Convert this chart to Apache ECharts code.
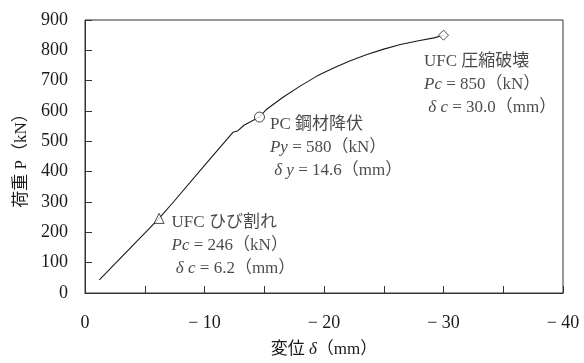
<!DOCTYPE html>
<html>
<head>
<meta charset="utf-8">
<script src="https://cdn.jsdelivr.net/npm/echarts@6/dist/echarts.min.js"></script>
<style>
  html, body { margin: 0; padding: 0; background: #fff; }
  #chart { width: 584px; height: 363px; }
</style>
</head>
<body>
<div id="chart"></div>
<script>
// Load–displacement curve (displacement in mm, load in kN)
const displacement = [-1.2, -6.2, -7.4, -10.2, -12.4, -12.8, -13.3, -14.6, -15.2, -16.6, -18.0,
                      -19.4, -20.8, -22.2, -23.6, -25.0, -26.4, -27.8, -29.2, -30.0];
const load = [43, 246, 300, 430, 530, 535, 553, 580, 606, 646, 682,
              715, 742, 766, 786, 804, 819, 831, 841, 850];

// Key events on the curve
const eventNames = ['UFC ひび割れ', 'PC 鋼材降伏', 'UFC 圧縮破壊'];
const eventLoadSym = ['Pc', 'Py', 'Pc'];
const eventDispSym = ['δ c', 'δ y', 'δ c'];
const eventDisp = [-6.2, -14.6, -30.0];
const eventLoad = [246, 580, 850];
const eventSymbols = ['triangle', 'circle', 'diamond'];

// Axis ticks
const xTicks = [0, -10, -20, -30, -40];
const yTicks = [0, 100, 200, 300, 400, 500, 600, 700, 800, 900];

const FONT = '"Liberation Serif", "Noto Sans CJK JP", serif';
const INK = '#1a1a1a';

// Where each callout sits relative to its marker
const calloutOffset = [[2, 27], [0, 30], [-30, 49]];

const curve = displacement.map((d, i) => [d, load[i]]);

const events = eventDisp.map((d, i) => ({
  value: [d, eventLoad[i]],
  symbol: eventSymbols[i],
  label: {
    show: true,
    position: 'right',
    distance: 5,
    offset: calloutOffset[i],
    align: 'left',
    formatter: [
      eventNames[i],
      '{i|' + eventLoadSym[i] + '} = ' + eventLoad[i] + '（kN）',
      ' {i|' + eventDispSym[i] + '} = ' + Math.abs(d).toFixed(1) + '（mm）'
    ].join('\n')
  }
}));

const chart = echarts.init(document.getElementById('chart'), null, { renderer: 'canvas' });

chart.setOption({
  animation: false,
  backgroundColor: '#fff',
  grid: {
    left: 85, right: 21, top: 20, bottom: 64,
    show: true, borderColor: '#333', borderWidth: 1, backgroundColor: 'transparent'
  },
  xAxis: {
    type: 'value',
    min: -40, max: 0, interval: 5,
    inverse: true,
    name: '変位 {i|δ}（mm）',
    nameLocation: 'middle',
    nameGap: 48,
    nameTextStyle: {
      fontFamily: FONT, fontSize: 17, color: INK,
      rich: { i: { fontFamily: FONT, fontSize: 17, fontStyle: 'italic', color: INK } }
    },
    axisLine: { show: true, lineStyle: { color: '#333', width: 1 } },
    axisTick: { show: true, inside: true, length: 7, lineStyle: { color: '#333' } },
    axisLabel: {
      margin: 21, fontFamily: FONT, fontSize: 18, color: INK,
      formatter: v => (xTicks.indexOf(v) >= 0 ? (v === 0 ? '0' : '− ' + Math.abs(v)) : '')
    },
    splitLine: { show: false }
  },
  yAxis: {
    type: 'value',
    min: 0, max: 900, interval: 100,
    name: '荷重 P（kN）',
    nameLocation: 'middle',
    nameRotate: 90,
    nameGap: 54,
    nameTextStyle: { fontFamily: FONT, fontSize: 17, color: INK },
    axisLine: { show: true, lineStyle: { color: '#333', width: 1 } },
    axisTick: { show: true, inside: true, length: 7, lineStyle: { color: '#333' } },
    axisLabel: {
      margin: 17, fontFamily: FONT, fontSize: 18, color: INK,
      formatter: v => (yTicks.indexOf(v) >= 0 ? String(v) : '')
    },
    splitLine: { show: false }
  },
  series: [
    {
      type: 'line',
      data: curve,
      showSymbol: false,
      symbol: 'none',
      smooth: false,
      lineStyle: { color: INK, width: 1.1 },
      z: 2
    },
    {
      type: 'scatter',
      data: events,
      symbolSize: 10,
      itemStyle: { color: '#fff', borderColor: INK, borderWidth: 1 },
      label: {
        fontFamily: FONT, fontSize: 17, lineHeight: 23, color: INK,
        rich: {
          i: { fontFamily: FONT, fontSize: 17, lineHeight: 23, fontStyle: 'italic', color: INK }
        }
      },
      emphasis: { disabled: true },
      z: 3
    }
  ]
});
</script>
</body>
</html>
